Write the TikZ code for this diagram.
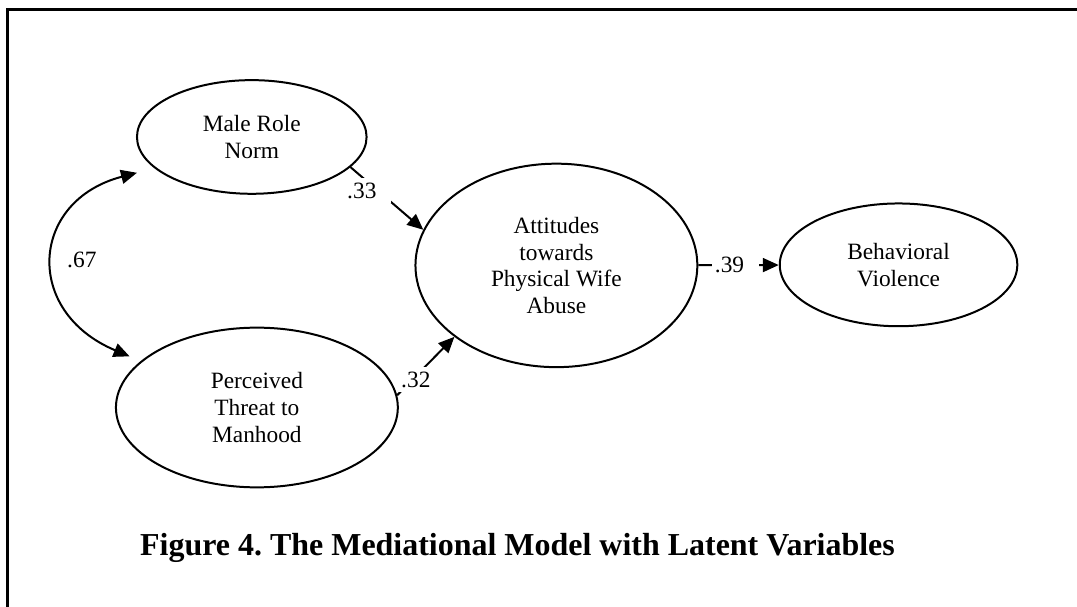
\documentclass[tikz,border=0pt]{standalone}
\usepackage{fontspec}
\setmainfont{Liberation Serif}
\usepackage{tikz}
\usetikzlibrary{arrows.meta}
\usetikzlibrary{shapes.geometric}
\pgfdeclarelayer{edgelayer}
\pgfdeclarelayer{nodelayer}
\pgfsetlayers{edgelayer,nodelayer,main}
\frenchspacing
\tikzstyle{none}=[inner sep=0pt]
\tikzstyle{latent}=[ellipse,fill=white,draw=black,line width=1pt,inner sep=0pt,align=center,font=\fontsize{11.7}{13.4}\selectfont]
\tikzstyle{weight}=[fill=white,inner xsep=1.5pt,inner ysep=0pt,text width=20.5pt,minimum height=12.5pt,align=left,font=\fontsize{11.7}{13.4}\selectfont]
\tikzstyle{path}=[-{Triangle[length=8pt,width=7pt]},draw=black,line width=1pt]
\tikzstyle{covary}=[{Triangle[length=8pt,width=7pt]}-{Triangle[length=8pt,width=7pt]},draw=black,line width=1pt]
\tikzstyle{frame}=[draw=black,line width=1.3pt]

\begin{document}
\begin{tikzpicture}
	\useasboundingbox (0, 0) rectangle (18.95, -10.68);
	\begin{pgfonlayer}{nodelayer}
		\node [style=latent, minimum width=4.04cm, minimum height=2cm] (0) at (4.43, -2.41) {Male Role\\Norm};
		\node [style=latent, minimum width=4.96cm, minimum height=2.81cm] (1) at (4.52, -7.17) {Perceived\\Threat to\\Manhood};
		\node [style=latent, minimum width=4.96cm, minimum height=3.58cm] (2) at (9.79, -4.67) {Attitudes\\towards\\Physical Wife\\Abuse};
		\node [style=latent, minimum width=4.18cm, minimum height=2.16cm] (3) at (15.81, -4.66) {Behavioral\\Violence};
		\coordinate (4) at (2.41, -3.04);
		\coordinate (5) at (2.28, -6.27);
		\node [style=weight] (6) at (6.47, -3.36) {.33};
		\node [style=weight] (7) at (7.42, -6.68) {.32};
		\node [style=weight] (8) at (12.94, -4.67) {.39};
		\node [style=none, font=\fontsize{11.7}{13.4}\selectfont] (9) at (1.44, -4.57) {.67};
		\node [style=none, anchor=base west, font=\bfseries\fontsize{16}{19}\selectfont] (10) at (2.46, -9.77) {Figure 4. The Mediational Model with Latent Variables};
	\end{pgfonlayer}
	\begin{pgfonlayer}{edgelayer}
		\fill [white] (-0.5, 0.5) rectangle (19.5, -11.2);
		\draw [style=frame] (0.13, -11) |- (19.5, -0.17);
		\draw [style=path] (0.-17) to (2.165);
		\draw [style=path] (1.5) to (2.215);
		\draw [style=path] (2) to (3);
		\draw [style=covary] (4) .. controls (0.53, -3.53) and (0.40, -5.48) .. (5);
	\end{pgfonlayer}
\end{tikzpicture}
\end{document}
